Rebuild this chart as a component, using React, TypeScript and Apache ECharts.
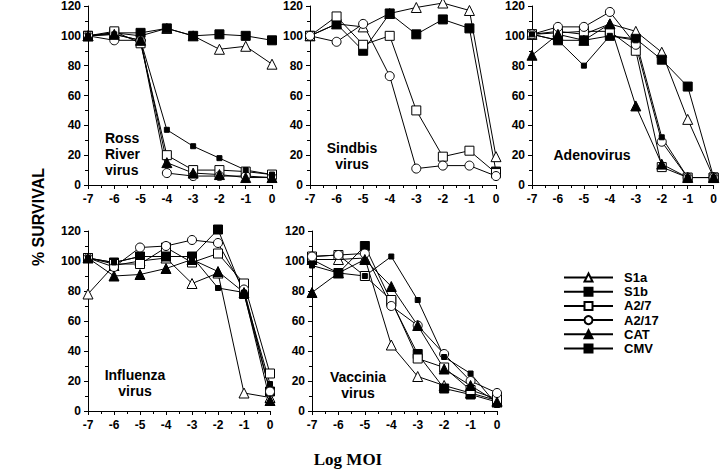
import React, { useEffect, useRef } from 'react';
import * as echarts from 'echarts';

// ---------- data ----------
const logMOI = [-7, -6, -5, -4, -3, -2, -1, 0];
const seriesNames = ['S1a', 'S1b', 'A2/7', 'A2/17', 'CAT', 'CMV'];

const rossRiver: Record<string, number[]> = {
  S1a: [100, 102, 100, 105, 100, 91, 93, 81],
  S1b: [100, 102, 102, 105, 100, 101, 100, 97],
  'A2/7': [100, 103, 95, 20, 10, 10, 9, 7],
  'A2/17': [100, 97, 97, 8, 6, 6, 6, 5],
  CAT: [100, 101, 97, 15, 8, 7, 5, 5],
  CMV: [100, 101, 97, 37, 26, 18, 10, 7],
};

const sindbis: Record<string, number[]> = {
  S1a: [100, 108, 106, 115, 119, 122, 117, 19],
  S1b: [100, 108, 90, 115, 101, 111, 105, 9],
  'A2/7': [100, 113, 94, 100, 50, 19, 23, 8],
  'A2/17': [100, 96, 108, 73, 11, 13, 13, 6],
};

const adenovirus: Record<string, number[]> = {
  S1a: [101, 103, 101, 108, 103, 89, 44, 5],
  S1b: [101, 97, 97, 100, 98, 84, 66, 5],
  'A2/7': [101, 102, 103, 103, 90, 12, 5, 5],
  'A2/17': [101, 106, 106, 116, 94, 29, 5, 5],
  CAT: [87, 101, 97, 108, 53, 14, 5, 5],
  CMV: [101, 97, 80, 100, 97, 32, 5, 5],
};

const influenza: Record<string, number[]> = {
  S1a: [78, 97, 100, 102, 85, 92, 12, 9],
  S1b: [102, 99, 103, 103, 103, 121, 78, 13],
  'A2/7': [102, 98, 98, 109, 99, 105, 85, 25],
  'A2/17': [102, 96, 109, 110, 114, 112, 81, 13],
  CAT: [102, 90, 91, 95, 101, 93, 79, 7],
  CMV: [102, 99, 103, 103, 103, 82, 79, 18],
};

const vaccinia: Record<string, number[]> = {
  S1a: [101, 101, 102, 44, 23, 17, 12, 7],
  S1b: [101, 92, 110, 73, 38, 15, 11, 6],
  'A2/7': [103, 104, 90, 74, 35, 29, 14, 8],
  'A2/17': [103, 104, 105, 70, 57, 38, 20, 12],
  CAT: [79, 92, 101, 83, 57, 28, 17, 6],
  CMV: [97, 92, 90, 103, 74, 36, 25, 4],
};

const panelData = [rossRiver, sindbis, adenovirus, influenza, vaccinia];
const panelLabels = ['Ross\nRiver\nvirus', 'Sindbis\nvirus', 'Adenovirus', 'Influenza\nvirus', 'Vaccinia\nvirus'];

// ---------- styles / layout ----------
const markerStyles: Record<string, { symbol: string; size: number; fill: string }> = {
  S1a: { symbol: 'triangle', size: 10, fill: '#fff' },
  S1b: { symbol: 'rect', size: 9, fill: '#000' },
  'A2/7': { symbol: 'rect', size: 9, fill: '#fff' },
  'A2/17': { symbol: 'circle', size: 9, fill: '#fff' },
  CAT: { symbol: 'triangle', size: 10, fill: '#000' },
  CMV: { symbol: 'rect', size: 5, fill: '#000' },
};

const grids = [
  { left: 88, top: 6, width: 184, height: 179 },
  { left: 310, top: 6, width: 186, height: 179 },
  { left: 532, top: 6, width: 183, height: 179 },
  { left: 88, top: 231, width: 182, height: 180 },
  { left: 312, top: 231, width: 185, height: 180 },
];

const labelPos = [
  { x: 105, y: 154, align: 'left' },
  { x: 352, y: 156, align: 'center' },
  { x: 592, y: 155, align: 'center' },
  { x: 135, y: 383, align: 'center' },
  { x: 358, y: 385, align: 'center' },
];

const SANS = '"Liberation Sans", Arial, sans-serif';
const SERIF = '"Liberation Serif", "Times New Roman", serif';

export default function App() {
  const ref = useRef<HTMLDivElement>(null);

  useEffect(() => {
    if (!ref.current) return;
    const chart = echarts.init(ref.current, undefined, { renderer: 'svg' });

    const axisCommon = {
      axisLine: { show: true, onZero: false, lineStyle: { color: '#000', width: 1 } },
      axisTick: { show: true, inside: false, length: 4, lineStyle: { color: '#000', width: 1 } },
      minorTick: { show: true, splitNumber: 2, length: 3, lineStyle: { color: '#000', width: 1 } },
      splitLine: { show: false },
      axisLabel: { color: '#000', fontFamily: SANS, fontWeight: 'bold', fontSize: 12 },
    };

    const xAxis = grids.map((_, i) => ({
      ...axisCommon,
      type: 'value',
      gridIndex: i,
      position: 'bottom',
      min: -7,
      max: 0,
      interval: 1,
      axisLabel: { ...axisCommon.axisLabel, margin: 8 },
    }));
    const yAxis = grids.map((_, i) => ({
      ...axisCommon,
      type: 'value',
      gridIndex: i,
      position: 'left',
      min: 0,
      max: 120,
      interval: 20,
      axisLabel: { ...axisCommon.axisLabel, margin: 7 },
    }));

    const series: any[] = [];
    panelData.forEach((panel, i) => {
      seriesNames.forEach((name) => {
        const vals = panel[name];
        if (!vals) return;
        const st = markerStyles[name];
        series.push({
          type: 'line',
          name,
          xAxisIndex: i,
          yAxisIndex: i,
          data: logMOI.map((x, j) => [x, vals[j]]),
          symbol: st.symbol,
          symbolSize: st.size,
          showAllSymbol: true,
          clip: false,
          itemStyle: { color: st.fill, borderColor: '#000', borderWidth: 1 },
          lineStyle: { color: '#000', width: 1 },
          emphasis: { disabled: true },
        });
      });
    });

    const graphics: any[] = panelLabels.map((t, i) => ({
      type: 'text',
      x: labelPos[i].x,
      y: labelPos[i].y,
      style: {
        text: t,
        fill: '#000',
        font: `bold 14px ${SANS}`,
        textAlign: labelPos[i].align,
        textVerticalAlign: 'middle',
        lineHeight: 16,
      },
    }));
    graphics.push({
      type: 'text',
      x: 38,
      y: 217,
      rotation: Math.PI / 2,
      style: {
        text: '% SURVIVAL',
        fill: '#000',
        font: `bold 16px ${SANS}`,
        textAlign: 'center',
        textVerticalAlign: 'middle',
      },
    });
    graphics.push({
      type: 'text',
      x: 348,
      y: 459,
      style: {
        text: 'Log MOI',
        fill: '#000',
        font: `bold 17px ${SERIF}`,
        textAlign: 'center',
        textVerticalAlign: 'middle',
      },
    });

    chart.setOption({
      animation: false,
      backgroundColor: '#fff',
      grid: grids,
      xAxis,
      yAxis,
      series,
      legend: {
        orient: 'vertical',
        left: 558,
        top: 266,
        padding: 5,
        itemWidth: 49,
        itemHeight: 10,
        itemGap: 1.2,
        selectedMode: false,
        data: seriesNames,
        textStyle: {
          color: '#000',
          fontFamily: SANS,
          fontWeight: 'bold',
          fontSize: 13,
          lineHeight: 12.6,
          padding: [0, 0, 0, 6],
        },
      },
      graphic: graphics,
    });

    return () => chart.dispose();
  }, []);

  return (
    <div
      ref={ref}
      style={{ position: 'fixed', left: 0, top: 0, width: 720, height: 474, background: '#fff' }}
    />
  );
}
